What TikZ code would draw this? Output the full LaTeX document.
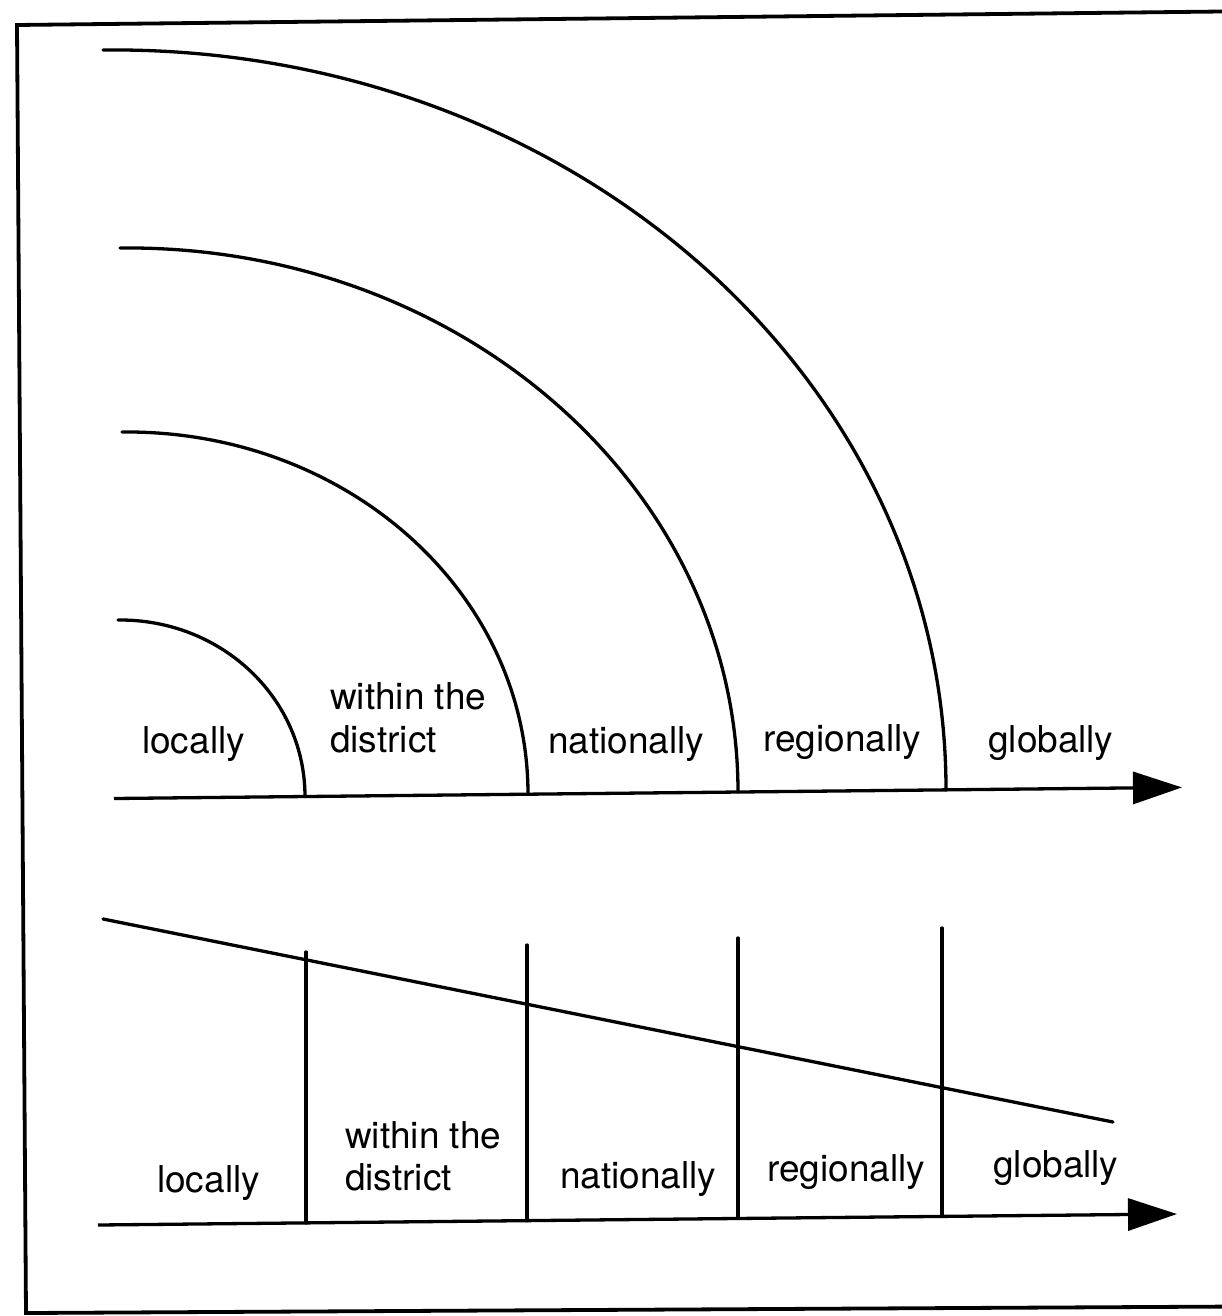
\documentclass[tikz,border=0pt]{standalone}
\usepackage{fontspec}
\setmainfont{TeX Gyre Heros}
\usetikzlibrary{arrows.meta}
\begin{document}
\begin{tikzpicture}[x=1pt,y=-1pt,
  ln/.style={line width=3.3pt, line cap=round},
  frm/.style={line width=3.8pt, line join=miter},
  axisarrow/.style={line width=3.3pt, -{Triangle[length=49pt,width=32pt]}},
  lbl/.style={inner sep=0pt, anchor=base west, font=\fontsize{37}{42}\selectfont}]
\fill[white] (0,0) rectangle (1222,1316);
\useasboundingbox (0,0) rectangle (1222,1316);
% frame (open on the right, cut by the page edge)
\coordinate (fTR) at (1240,11.3);
\coordinate (fTL) at (17,25);
\coordinate (fBL) at (26,1313);
\coordinate (fBR) at (1240,1306.5);
\draw[frm] (fTR) -- (fTL) -- (fBL) -- (fBR);
% ---------- top diagram ----------
\coordinate (t0) at (114,798.5);
\coordinate (t1) at (1182,787.4);
\draw[axisarrow] (t0) -- (t1);
\coordinate (s1) at (118,620);
\coordinate (e1) at (305,796.6);
\coordinate (s2) at (122,432);
\coordinate (e2) at (528,794.3);
\coordinate (s3) at (120,248);
\coordinate (e3) at (738,792.1);
\coordinate (s4) at (103,50);
\coordinate (e4) at (946,789.9);
\draw[ln] (s1) .. controls (221.3,618.9) and (305,698.0) .. (e1);
\draw[ln] (s2) .. controls (346.2,429.7) and (528,591.9) .. (e2);
\draw[ln] (s3) .. controls (461.3,244.4) and (738,488.0) .. (e3);
\draw[ln] (s4) .. controls (568.6,45.1) and (946,376.4) .. (e4);
\node[lbl] (tl1) at (142,753) {locally};
\node[lbl] (tl2a) at (330,709) {within the};
\node[lbl] (tl2b) at (330,752) {district};
\node[lbl] (tl3) at (548,753) {nationally};
\node[lbl] (tl4) at (763,751) {regionally};
\node[lbl] (tl5) at (988,752) {globally};
% ---------- bottom diagram ----------
\coordinate (b0) at (98,1225);
\coordinate (b1) at (1177,1214);
\draw[axisarrow] (b0) -- (b1);
\coordinate (g0) at (103,919);
\coordinate (g1) at (1113,1122);
\draw[ln] (g0) -- (g1);
\coordinate (v1t) at (306,952);
\coordinate (v1b) at (306,1222.9);
\coordinate (v2t) at (527,945);
\coordinate (v2b) at (527,1220.7);
\coordinate (v3t) at (738,938);
\coordinate (v3b) at (738,1218.5);
\coordinate (v4t) at (942,928);
\coordinate (v4b) at (942,1216.4);
\draw[ln] (v1t) -- (v1b);
\draw[ln] (v2t) -- (v2b);
\draw[ln] (v3t) -- (v3b);
\draw[ln] (v4t) -- (v4b);
\node[lbl] (bl1) at (157,1192) {locally};
\node[lbl] (bl2a) at (345,1148) {within the};
\node[lbl] (bl2b) at (345,1190) {district};
\node[lbl] (bl3) at (560,1188) {nationally};
\node[lbl] (bl4) at (767,1181) {regionally};
\node[lbl] (bl5) at (993,1177) {globally};
\end{tikzpicture}
\end{document}
